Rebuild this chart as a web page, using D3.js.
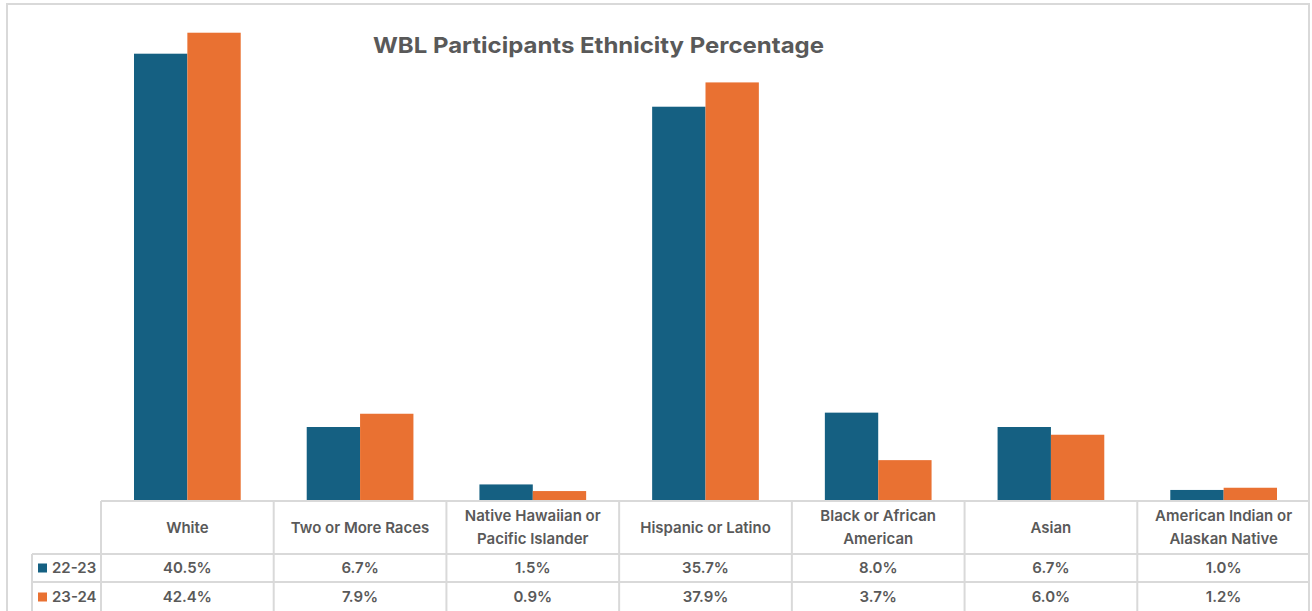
<!DOCTYPE html>
<html lang="en">
<head>
<meta charset="UTF-8">
<title>WBL Participants Ethnicity Percentage</title>
<script src="https://cdn.jsdelivr.net/npm/d3@7"></script>
<style>
  html, body { margin: 0; padding: 0; background: #fff; }
  svg text { font-family: Inter, "Open Sans", sans-serif; fill: #595959; }
</style>
</head>
<body>
<div id="root"></div>
<script>
// data
var categories = [
  ['White'],
  ['Two or More Races'],
  ['Native Hawaiian or', 'Pacific Islander'],
  ['Hispanic or Latino'],
  ['Black or African', 'American'],
  ['Asian'],
  ['American Indian or', 'Alaskan Native']
]
var seriesNames = ['22-23', '23-24']
var values2223 = [40.5, 6.7, 1.5, 35.7, 8.0, 6.7, 1.0]
var values2324 = [42.4, 7.9, 0.9, 37.9, 3.7, 6.0, 1.2]
var colors = ['#156082', '#E97132']

var width = 1312
var height = 611

var plotLeft = 101, plotRight = 1310
var baseY = 501
var row1 = 554, row2 = 582
var legendLeft = 32
var gridColor = '#D9D9D9'

var series = [values2223, values2324]

var svg = d3.select('#root')
  .append('svg')
  .attr('width', width)
  .attr('height', height)

// outer chart border
svg.append('rect')
  .attr('x', 7).attr('y', 4)
  .attr('width', 1302).attr('height', 620)
  .attr('fill', 'none')
  .attr('stroke', gridColor)
  .attr('stroke-width', 2)

var x = d3.scaleBand()
  .domain(d3.range(categories.length))
  .range([plotLeft, plotRight])
  .padding(0)

var gap = 33
var xInner = d3.scaleBand()
  .domain(d3.range(seriesNames.length))
  .range([gap, x.bandwidth() - gap])
  .padding(0)

var y = d3.scaleLinear()
  .domain([0, 45])
  .range([baseY, 4])

// bars
seriesNames.forEach(function(name, s) {
  svg.append('g')
    .selectAll('rect')
    .data(series[s])
    .enter()
    .append('rect')
      .attr('x', function(d, i) { return x(i) + xInner(s) })
      .attr('width', xInner.bandwidth())
      .attr('y', function(d) { return y(d) })
      .attr('height', function(d) { return y(0) - y(d) })
      .attr('fill', colors[s])
})

// title
svg.append('text')
  .attr('x', 373)
  .attr('y', 53)
  .attr('textLength', 451)
  .attr('lengthAdjust', 'spacingAndGlyphs')
  .style('font-size', '22px')
  .style('font-weight', 700)
  .text('WBL Participants Ethnicity Percentage')

// data table grid
var grid = svg.append('g')
  .attr('stroke', gridColor)
  .attr('stroke-width', 2)

grid.append('line')
  .attr('x1', plotLeft).attr('x2', plotRight)
  .attr('y1', baseY).attr('y2', baseY)
grid.append('line')
  .attr('x1', legendLeft).attr('x2', plotRight)
  .attr('y1', row1).attr('y2', row1)
grid.append('line')
  .attr('x1', legendLeft).attr('x2', plotRight)
  .attr('y1', row2).attr('y2', row2)
grid.append('line')
  .attr('x1', legendLeft).attr('x2', legendLeft)
  .attr('y1', row1).attr('y2', height)

grid.selectAll('line.col')
  .data(d3.range(categories.length + 1))
  .enter()
  .append('line')
    .attr('class', 'col')
    .attr('x1', function(i) { return i < categories.length ? x(i) : plotRight - 1 })
    .attr('x2', function(i) { return i < categories.length ? x(i) : plotRight - 1 })
    .attr('y1', baseY)
    .attr('y2', height)

// category labels
var lineGap = 23
svg.append('g')
  .selectAll('text')
  .data(categories)
  .enter()
  .append('text')
    .attr('text-anchor', 'middle')
    .attr('x', function(d, i) { return x(i) + x.bandwidth() / 2 })
    .attr('y', function(d) { return 527.5 - (d.length - 1) * lineGap / 2 })
    .style('font-size', '15px')
    .style('font-weight', 600)
    .each(function(d) {
      var t = d3.select(this)
      d.forEach(function(line, k) {
        t.append('tspan')
          .attr('x', t.attr('x'))
          .attr('dy', k === 0 ? '0.35em' : lineGap)
          .text(line)
      })
    })

// value rows + legend keys
var rowCenters = [568, 597]
seriesNames.forEach(function(name, s) {
  svg.append('g')
    .selectAll('text')
    .data(series[s])
    .enter()
    .append('text')
      .attr('text-anchor', 'middle')
      .attr('x', function(d, i) { return x(i) + x.bandwidth() / 2 })
      .attr('y', rowCenters[s])
      .attr('dy', '0.35em')
      .style('font-size', '15px')
      .style('font-weight', 600)
      .text(function(d) { return d.toFixed(1) + '%' })

  svg.append('rect')
    .attr('x', 38)
    .attr('y', rowCenters[s] - 4.5)
    .attr('width', 9)
    .attr('height', 9)
    .attr('fill', colors[s])

  svg.append('text')
    .attr('x', 52)
    .attr('y', rowCenters[s])
    .attr('dy', '0.35em')
    .style('font-size', '15px')
    .style('font-weight', 600)
    .text(name)
})
</script>
</body>
</html>
